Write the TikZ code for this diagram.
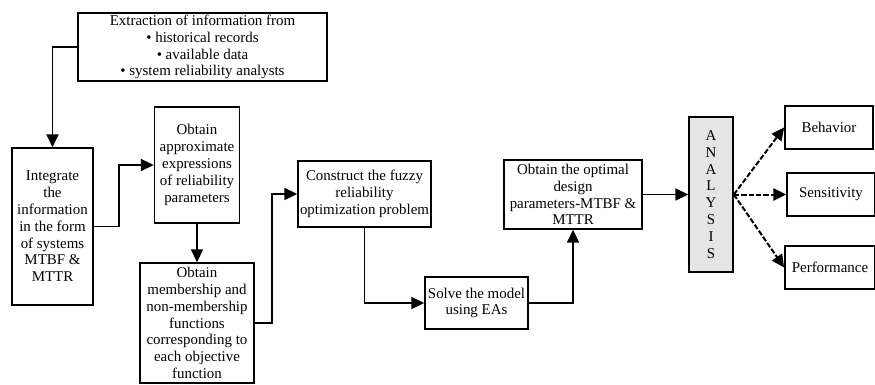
\documentclass[tikz,border=0pt]{standalone}
\usepackage{fontspec}
\setmainfont{Liberation Serif}
\usetikzlibrary{arrows.meta}
\begin{document}
\begin{tikzpicture}[x=0.75pt,y=-0.75pt,
  box/.style={draw,line width=1.3pt,align=center,inner sep=0pt,font=\fontsize{11.2}{12.6}\selectfont},
  sz/.style 2 args={minimum width={#1*0.75pt},minimum height={#2*0.75pt}},
  arr/.style={line width=1.3pt,-{Triangle[length=9.5pt,width=9pt]}},
  darr/.style={line width=1.5pt,dash pattern=on 4pt off 1.5pt,-{Triangle[length=9.5pt,width=9pt]}}]
\useasboundingbox (0,0) rectangle (875,385);
\node[box,sz={249}{68}] (ext) at (202.5,47)
  {Extraction of information from\\ \textbullet\ historical records\\ \textbullet\ available data\\ \textbullet\ system reliability analysts};
\node[box,sz={81}{157}] (integ) at (52.5,226.5)
  {Integrate\\the\\information\\in the form\\of systems\\MTBF \&\\MTTR};
\node[box,sz={85}{116}] (approx) at (197,165)
  {Obtain\\approximate\\expressions\\of reliability\\parameters};
\node[box,sz={114}{120}] (memb) at (197,323)
  {Obtain\\membership and\\non-membership\\functions\\corresponding to\\each objective\\function};
\node[box,sz={133}{66}] (constr) at (364.5,194)
  {Construct the fuzzy\\reliability\\optimization problem};
\node[box,sz={103}{52}] (solve) at (476.5,303)
  {Solve the model\\using EAs};
\node[box,sz={138}{69}] (optim) at (573,194.5)
  {Obtain the optimal\\design\\parameters-MTBF \&\\MTTR};
\node[box,fill=black!10,sz={44}{155}] (anal) at (711,194.5)
  {A\\N\\A\\L\\Y\\S\\I\\S};
\node[box,sz={88}{43}] (beh) at (829,127.5) {Behavior};
\node[box,sz={88}{43}] (sens) at (831,194.5) {Sensitivity};
\node[box,sz={90}{43}] (perf) at (830,267.5) {Performance};
\draw[arr] (ext.west) -| (integ.north);
\draw[arr] (integ.east) -- ++(25,0) |- (approx.west);
\draw[arr] (approx.south) -- (memb.north);
\draw[arr] (memb.east) -- ++(17,0) |- (constr.west);
\draw[arr] (constr.south) |- (solve.west);
\draw[arr] (solve.east) -| (optim.south);
\draw[arr] (optim.east) -- (anal.west);
\draw[darr] (anal.east) -- (beh.west);
\draw[darr] (anal.east) -- (sens.west);
\draw[darr] (anal.east) -- (perf.west);
\end{tikzpicture}
\end{document}
